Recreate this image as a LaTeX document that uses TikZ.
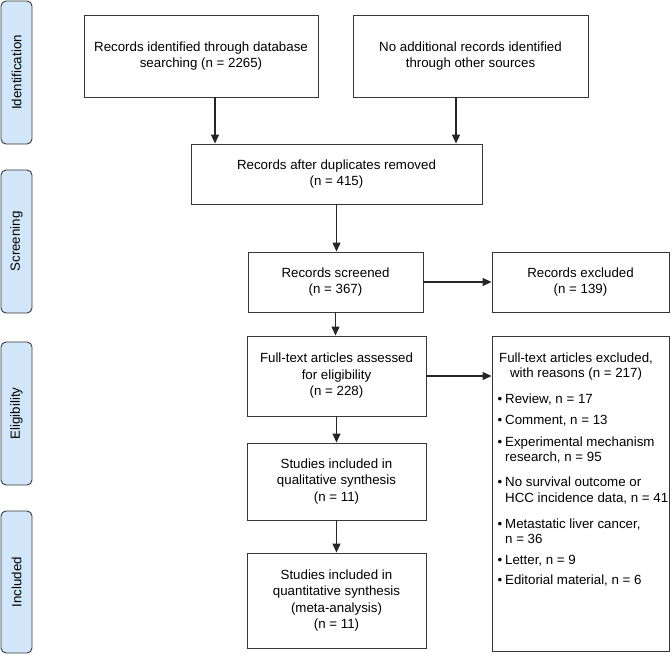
\documentclass[tikz,border=0pt]{standalone}
\usepackage{fontspec}
\setmainfont{Liberation Sans}
\usetikzlibrary{arrows.meta}
\definecolor{phasefill}{RGB}{209,231,249}
\definecolor{edgecol}{RGB}{55,55,55}
\begin{document}
\begin{tikzpicture}[x=1pt,y=-1pt,
  font=\fontsize{13.3}{16.5}\selectfont,
  box/.style={draw=edgecol, line width=0.9pt, align=center, inner sep=2pt},
  phase/.style={draw=edgecol, fill=phasefill, line width=0.9pt, rounded corners=5pt,
    rotate=90, minimum height=31pt, inner sep=0pt},
  arr/.style={draw=black!85, line width=1.1pt, -{Triangle[length=9pt,width=8pt]}},
  ln/.style={anchor=base west, inner sep=0pt},
  hd/.style={anchor=base, inner sep=0pt}]
\useasboundingbox (0,0) rectangle (672,656);

% phase labels
\node[phase, minimum width=143pt] (pid) at (16.5,72.5) {Identification};
\node[phase, minimum width=143pt] (psc) at (16.5,241.5) {Screening};
\node[phase, minimum width=143pt] (pel) at (16.5,413.5) {Eligibility};
\node[phase, minimum width=142pt] (pin) at (16.5,582) {Included};

% main boxes
\node[box, minimum width=234pt, minimum height=82pt] (b1) at (201,56)
  {Records identified through database\\searching (n = 2265)};
\node[box, minimum width=235pt, minimum height=82pt] (b2) at (470.5,56)
  {No additional records identified\\through other sources};
\node[box, minimum width=291pt, minimum height=60pt] (dup) at (336.5,174)
  {Records after duplicates removed\\(n = 415)};
\node[box, minimum width=175pt, minimum height=60pt] (scr) at (335.5,282)
  {Records screened\\(n = 367)};
\node[box, minimum width=177pt, minimum height=60pt] (exc) at (580.5,282)
  {Records excluded\\(n = 139)};
\node[box, minimum width=179pt, minimum height=80pt] (full) at (336.5,376)
  {Full-text articles assessed\\for eligibility\\(n = 228)};
\node[box, minimum width=177pt, minimum height=315pt] (rea) at (580.5,493.5) {};
\node[box, minimum width=179pt, minimum height=77pt] (qual) at (336.5,481.5)
  {Studies included in\\qualitative synthesis\\(n = 11)};
\node[box, minimum width=179pt, minimum height=95pt] (quan) at (336.5,600.5)
  {Studies included in\\quantitative synthesis\\(meta-analysis)\\(n = 11)};

% reasons text
\node[hd] (h1) at (576,362.8) {Full-text articles excluded,};
\node[hd] (h2) at (576,377.8) {with reasons (n = 217)};
\node[ln] (k1) at (497.5,403.8) {\textbullet};
\node[ln] (t1) at (505,403.8) {Review, n = 17};
\node[ln] (k2) at (497.5,424.5) {\textbullet};
\node[ln] (t2) at (505,424.5) {Comment, n = 13};
\node[ln] (k3) at (497.5,446.2) {\textbullet};
\node[ln] (t3) at (505,446.2) {Experimental mechanism};
\node[ln] (t3b) at (505,461.2) {research, n = 95};
\node[ln] (k4) at (497.5,486.2) {\textbullet};
\node[ln] (t4) at (505,486.2) {No survival outcome or};
\node[ln] (t4b) at (505,502.5) {HCC incidence data, n = 41};
\node[ln] (k5) at (497.5,528) {\textbullet};
\node[ln] (t5) at (505,528) {Metastatic liver cancer,};
\node[ln] (t5b) at (505,543) {n = 36};
\node[ln] (k6) at (497.5,564.5) {\textbullet};
\node[ln] (t6) at (505,564.5) {Letter, n = 9};
\node[ln] (k7) at (497.5,584.5) {\textbullet};
\node[ln] (t7) at (505,584.5) {Editorial material, n = 6};

% connectors
\draw[arr] ([xshift=14pt]b1.south) -- ([xshift=14pt]b1.south |- dup.north);
\draw[arr] ([xshift=-14.5pt]b2.south) -- ([xshift=-14.5pt]b2.south |- dup.north);
\draw[arr] (dup.south) -- (dup.south |- scr.north);
\draw[arr] (scr.east) -- (scr.east -| exc.west);
\draw[arr] (scr.south) -- (scr.south |- full.north);
\draw[arr] (full.east) -- (full.east -| rea.west);
\draw[arr] (full.south) -- (qual.north);
\draw[arr] (qual.south) -- (quan.north);
\end{tikzpicture}
\end{document}
